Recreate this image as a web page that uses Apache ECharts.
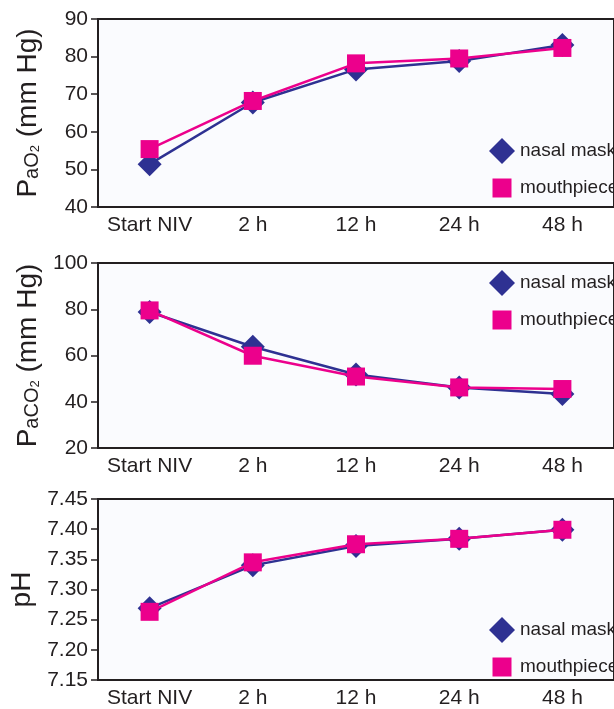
<!DOCTYPE html>
<html>
<head>
<meta charset="utf-8">
<script src="https://cdn.jsdelivr.net/npm/echarts@6/dist/echarts.min.js"></script>
<style>
html,body{margin:0;padding:0;background:#ffffff;}
#chart{width:614px;height:709px;}
</style>
</head>
<body>
<div id="chart"></div>
<script>
const categories = ['Start NIV', '2 h', '12 h', '24 h', '48 h'];
const seriesNames = ['nasal mask', 'mouthpiece'];
const pao2Nasal = [51.4, 67.8, 76.6, 78.8, 83.1];
const pao2Mouth = [55.4, 68.2, 78.2, 79.5, 82.3];
const paco2Nasal = [78.8, 63.8, 51.8, 46.2, 43.3];
const paco2Mouth = [79.5, 59.9, 50.9, 46.2, 45.5];
const phNasal = [7.269, 7.340, 7.372, 7.384, 7.399];
const phMouth = [7.263, 7.345, 7.375, 7.384, 7.399];
const yNames = ['{p|P}{s|aO}{t|2}{p| (mm Hg)}', '{p|P}{s|aCO}{t|2}{p| (mm Hg)}', '{p|pH}'];
const yRanges = [[40, 90, 10], [20, 100, 20], [7.15, 7.45, 0.05]];

const BLUE = '#2e3192';
const PINK = '#ec008c';
const INK = '#231f20';
const FONT = "'Liberation Sans', Arial, sans-serif";

const grids = [
  {left: 98, right: -6, top: 19, height: 188},
  {left: 98, right: -6, top: 263, height: 185},
  {left: 98, right: -6, top: 499, height: 187}
].map(g => Object.assign(g, {show: true, borderColor: INK, borderWidth: 2, backgroundColor: '#fafbfe'}));

const richName = {
  p: {fontSize: 28, fontFamily: FONT, color: INK, verticalAlign: 'bottom', lineHeight: 32},
  s: {fontSize: 20, fontFamily: FONT, color: INK, verticalAlign: 'bottom', lineHeight: 32},
  t: {fontSize: 13, fontFamily: FONT, color: INK, verticalAlign: 'bottom', lineHeight: 28}
};

const xAxes = grids.map((g, i) => ({
  type: 'category', gridIndex: i, data: categories, boundaryGap: true,
  axisLine: {lineStyle: {color: INK, width: 2}},
  axisTick: {show: false},
  axisLabel: {color: INK, fontSize: 21, fontFamily: FONT, margin: 8, interval: 0}
}));

const yAxes = yRanges.map((r, i) => ({
  type: 'value', gridIndex: i, min: r[0], max: r[1], interval: r[2],
  name: yNames[i], nameLocation: 'middle', nameRotate: 90, nameGap: 56,
  nameTextStyle: {rich: richName},
  splitLine: {show: false},
  axisLine: {show: true, lineStyle: {color: INK, width: 2}},
  axisTick: {show: true, length: 7, lineStyle: {color: INK, width: 1.5}},
  axisLabel: {color: INK, fontSize: 21, fontFamily: FONT, margin: 10,
    formatter: v => i === 2 ? v.toFixed(2) : String(Math.round(v))}
}));

function mk(name, data, idx) {
  const nasal = name === seriesNames[0];
  return {
    type: 'line', name: name, xAxisIndex: idx, yAxisIndex: idx, data: data,
    symbol: nasal ? 'diamond' : 'rect',
    symbolSize: nasal ? [24, 24] : 18,
    itemStyle: {color: nasal ? BLUE : PINK},
    lineStyle: {color: nasal ? BLUE : PINK, width: 2.5},
    z: nasal ? 2 : 3,
    animation: false
  };
}

const series = [
  mk(seriesNames[0], pao2Nasal, 0), mk(seriesNames[1], pao2Mouth, 0),
  mk(seriesNames[0], paco2Nasal, 1), mk(seriesNames[1], paco2Mouth, 1),
  mk(seriesNames[0], phNasal, 2), mk(seriesNames[1], phMouth, 2)
];

const legendTops = [133, 265, 612];
const legends = legendTops.map(t => ({
  left: 484, top: t, orient: 'vertical', itemWidth: 26, itemHeight: 26, itemGap: 11,
  selectedMode: false,
  textStyle: {color: INK, fontSize: 19, fontFamily: FONT},
  data: [
    {name: seriesNames[0], icon: 'diamond'},
    {name: seriesNames[1], icon: 'path://M0,0M26,26M3.5,3.5L22.5,3.5L22.5,22.5L3.5,22.5Z'}
  ]
}));

const chart = echarts.init(document.getElementById('chart'), null, {renderer: 'canvas'});
chart.setOption({
  backgroundColor: '#ffffff',
  animation: false,
  grid: grids,
  xAxis: xAxes,
  yAxis: yAxes,
  legend: legends,
  series: series
});
</script>
</body>
</html>
